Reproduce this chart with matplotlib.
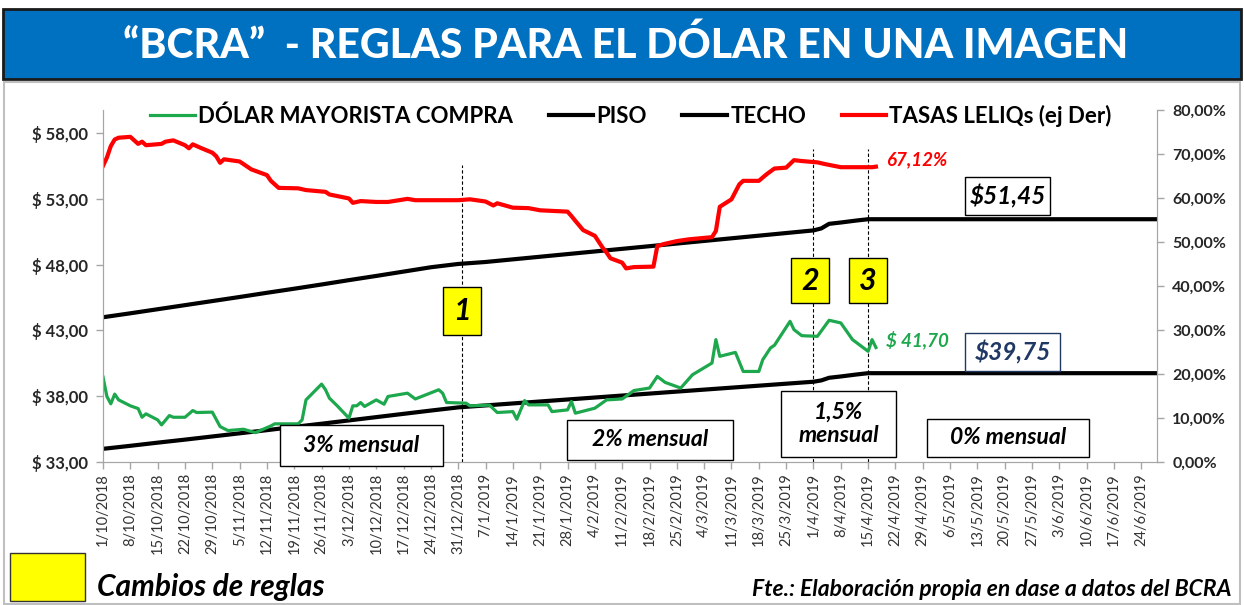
import matplotlib
matplotlib.use("Agg")
import matplotlib.pyplot as plt
import pandas as pd
from matplotlib.patches import Rectangle
from matplotlib.ticker import FuncFormatter, FixedLocator

plt.rcParams['font.family'] = ['Lato', 'DejaVu Sans']

# dólar mayorista compra ($)
dolar_fechas = ['2018-10-01', '2018-10-02', '2018-10-03', '2018-10-04', '2018-10-05', '2018-10-08',
                '2018-10-10', '2018-10-11', '2018-10-12', '2018-10-15', '2018-10-16', '2018-10-18',
                '2018-10-19', '2018-10-22', '2018-10-24', '2018-10-25', '2018-10-29', '2018-10-31',
                '2018-11-02', '2018-11-06', '2018-11-09', '2018-11-13', '2018-11-14', '2018-11-20',
                '2018-11-21', '2018-11-22', '2018-11-26', '2018-11-27', '2018-11-28', '2018-11-30',
                '2018-12-03', '2018-12-04', '2018-12-05', '2018-12-06', '2018-12-07', '2018-12-10',
                '2018-12-12', '2018-12-13', '2018-12-18', '2018-12-20', '2018-12-26', '2018-12-27',
                '2018-12-28', '2019-01-02', '2019-01-03', '2019-01-08', '2019-01-10', '2019-01-14',
                '2019-01-15', '2019-01-17', '2019-01-18', '2019-01-23', '2019-01-24', '2019-01-28',
                '2019-01-29', '2019-01-30', '2019-02-04', '2019-02-07', '2019-02-11', '2019-02-14',
                '2019-02-18', '2019-02-20', '2019-02-22', '2019-02-26', '2019-03-01', '2019-03-06',
                '2019-03-07', '2019-03-08', '2019-03-12', '2019-03-14', '2019-03-18', '2019-03-19',
                '2019-03-21', '2019-03-22', '2019-03-26', '2019-03-27', '2019-03-29', '2019-04-02',
                '2019-04-05', '2019-04-08', '2019-04-11', '2019-04-15', '2019-04-16', '2019-04-17']
dolar = [39.46, 37.98, 37.42, 38.16, 37.72, 37.27,
         37.06, 36.40, 36.66, 36.20, 35.82, 36.53,
         36.40, 36.40, 36.91, 36.76, 36.79, 35.69,
         35.39, 35.49, 35.23, 35.74, 35.90, 35.90,
         36.20, 37.72, 38.92, 38.49, 37.85, 37.27,
         36.33, 37.27, 37.27, 37.52, 37.22, 37.72,
         37.39, 37.98, 38.23, 37.79, 38.49, 38.23,
         37.52, 37.47, 37.27, 37.32, 36.76, 36.83,
         36.25, 37.67, 37.34, 37.34, 36.83, 36.96,
         37.60, 36.71, 37.09, 37.72, 37.79, 38.43,
         38.62, 39.50, 39.05, 38.62, 39.63, 40.52,
         42.30, 41.03, 41.33, 39.88, 39.88, 40.77,
         41.67, 41.87, 43.69, 43.06, 42.60, 42.55,
         43.77, 43.57, 42.30, 41.41, 42.30, 41.70]

# tasas LELIQ (%), eje derecho
leliq_fechas = ['2018-10-01', '2018-10-02', '2018-10-03', '2018-10-04', '2018-10-05', '2018-10-08',
                '2018-10-09', '2018-10-10', '2018-10-11', '2018-10-12', '2018-10-16', '2018-10-17',
                '2018-10-19', '2018-10-22', '2018-10-23', '2018-10-24', '2018-10-26', '2018-10-29',
                '2018-10-30', '2018-10-31', '2018-11-01', '2018-11-05', '2018-11-08', '2018-11-12',
                '2018-11-13', '2018-11-15', '2018-11-20', '2018-11-22', '2018-11-27', '2018-11-28',
                '2018-12-03', '2018-12-04', '2018-12-06', '2018-12-10', '2018-12-13', '2018-12-18',
                '2018-12-20', '2018-12-31', '2019-01-03', '2019-01-07', '2019-01-09', '2019-01-10',
                '2019-01-14', '2019-01-18', '2019-01-21', '2019-01-28', '2019-01-29', '2019-01-30',
                '2019-02-01', '2019-02-04', '2019-02-06', '2019-02-07', '2019-02-08', '2019-02-11',
                '2019-02-12', '2019-02-14', '2019-02-19', '2019-02-20', '2019-02-22', '2019-02-25',
                '2019-02-28', '2019-03-06', '2019-03-07', '2019-03-08', '2019-03-11', '2019-03-13',
                '2019-03-14', '2019-03-18', '2019-03-20', '2019-03-22', '2019-03-25', '2019-03-27',
                '2019-03-29', '2019-04-02', '2019-04-04', '2019-04-08', '2019-04-12', '2019-04-16',
                '2019-04-17']
leliq = [67.3, 69.2, 71.8, 73.3, 73.7, 73.9,
         73.1, 72.3, 72.8, 72.0, 72.3, 72.8,
         73.1, 72.0, 71.3, 72.2, 71.4, 70.3,
         69.5, 68.0, 68.8, 68.3, 66.5, 65.2,
         63.9, 62.3, 62.2, 61.8, 61.4, 60.8,
         59.9, 58.9, 59.3, 59.1, 59.1, 59.8,
         59.5, 59.5, 59.7, 59.2, 58.3, 58.8,
         57.8, 57.7, 57.2, 56.9, 55.9, 54.8,
         52.7, 51.4, 48.7, 47.6, 46.3, 45.3,
         44.0, 44.3, 44.4, 49.1, 49.6, 50.2,
         50.6, 51.1, 52.5, 58.0, 59.7, 63.1,
         63.9, 63.9, 65.4, 66.7, 66.9, 68.6,
         68.4, 68.1, 67.7, 67.0, 67.0, 67.0,
         67.12]

# banda cambiaria: piso y techo ($)
banda_fechas = ['2018-10-01', '2018-10-08', '2018-10-15', '2018-10-22', '2018-10-29', '2018-11-05',
                '2018-11-12', '2018-11-19', '2018-11-26', '2018-12-03', '2018-12-10', '2018-12-17',
                '2018-12-24', '2018-12-31', '2019-01-07', '2019-01-14', '2019-01-21', '2019-01-28',
                '2019-02-04', '2019-02-11', '2019-02-18', '2019-02-25', '2019-03-04', '2019-03-11',
                '2019-03-18', '2019-03-25', '2019-04-01', '2019-04-03', '2019-04-05', '2019-04-08',
                '2019-04-12', '2019-04-15', '2019-06-28']
piso = [34.00, 34.23, 34.47, 34.70, 34.94, 35.18,
        35.42, 35.67, 35.91, 36.16, 36.41, 36.66,
        36.91, 37.15, 37.30, 37.45, 37.60, 37.75,
        37.90, 38.05, 38.20, 38.35, 38.50, 38.65,
        38.80, 38.95, 39.10, 39.20, 39.40, 39.50,
        39.65, 39.75, 39.75]
techo = [44.00, 44.30, 44.61, 44.92, 45.23, 45.54,
         45.86, 46.17, 46.49, 46.82, 47.14, 47.47,
         47.80, 48.05, 48.20, 48.40, 48.60, 48.80,
         49.00, 49.20, 49.40, 49.60, 49.80, 50.00,
         50.20, 50.40, 50.60, 50.75, 51.10, 51.20,
         51.35, 51.45, 51.45]

# cambios de reglas
reglas_fechas = ['2019-01-01', '2019-04-01', '2019-04-15']
reglas_nombres = ['1', '2', '3']

W, H = 1244, 605
VERDE = '#1EA84D'
GRIS = '#A6A6A6'

fig = plt.figure(figsize=(W / 100, H / 100), dpi=100)
ax = fig.add_axes([103 / W, 1 - 462 / H, (1157 - 103) / W, (462 - 110) / H])
ax2 = ax.twinx()

d_dolar = pd.to_datetime(dolar_fechas)
d_leliq = pd.to_datetime(leliq_fechas)
d_banda = pd.to_datetime(banda_fechas)
d_reglas = pd.to_datetime(reglas_fechas)

l_piso, = ax.plot(d_banda, piso, color='black', lw=3, zorder=2, label='PISO')
l_techo, = ax.plot(d_banda, techo, color='black', lw=3, zorder=2, label='TECHO')
l_dolar, = ax.plot(d_dolar, dolar, color=VERDE, lw=2.3, zorder=3, label='DÓLAR MAYORISTA COMPRA')
l_leliq, = ax2.plot(d_leliq, leliq, color='#FF0000', lw=3, label='TASAS LELIQs (ej Der)')

ax.vlines(d_reglas, 33, [55.6, 56.8, 56.8], colors='black', linestyles=(0, (3, 2)), lw=0.8, zorder=1)

ax.set_ylim(33, 59.75)
ax2.set_ylim(0, 80)
ax.set_xlim(pd.Timestamp('2018-10-01'), pd.Timestamp('2019-06-28'))

ax.yaxis.set_major_locator(FixedLocator([33, 38, 43, 48, 53, 58]))
ax.yaxis.set_major_formatter(FuncFormatter(lambda v, p: f"$ {v:.2f}".replace('.', ',')))
ax2.yaxis.set_major_locator(FixedLocator(range(0, 81, 10)))
ax2.yaxis.set_major_formatter(FuncFormatter(lambda v, p: f"{v:.2f}%".replace('.', ',')))

semanas = pd.date_range('2018-10-01', '2019-06-24', freq='7D')
ax.set_xticks(semanas)
ax.set_xticklabels([f"{d.day}/{d.month}/{d.year}" for d in semanas], rotation=90,
                   fontsize=10.5, color='#333333')

for a in (ax, ax2):
    a.spines['top'].set_visible(False)
    for s in ('left', 'right', 'bottom'):
        a.spines[s].set_color(GRIS)
    a.tick_params(colors=GRIS, length=5, width=1)
ax.tick_params(axis='y', labelcolor='#262626', labelsize=12, pad=6)
ax.tick_params(axis='x', labelcolor='#333333', pad=3)
ax2.tick_params(axis='y', labelcolor='#262626', labelsize=11.5, pad=6)
for t in ax.get_yticklabels() + ax2.get_yticklabels():
    t.set_fontweight('bold')

# leyenda
fig.legend([l_dolar, l_piso, l_techo, l_leliq],
           [l.get_label() for l in (l_dolar, l_piso, l_techo, l_leliq)],
           loc='center', bbox_to_anchor=(631 / W, 1 - 116 / H), ncol=4, frameon=False,
           prop={'weight': 'bold', 'size': 16}, handlelength=2.0, handletextpad=0.15,
           columnspacing=1.6)


def px_box(x0, y0, x1, y1, text, fc='white', ec='black', color='black', size=15, lw=1.0):
    fig.add_artist(Rectangle((x0 / W, 1 - y1 / H), (x1 - x0) / W, (y1 - y0) / H,
                             transform=fig.transFigure, fc=fc, ec=ec, lw=lw, zorder=5))
    fig.text((x0 + x1) / 2 / W, 1 - (y0 + y1) / 2 / H, text, ha='center', va='center',
             color=color, fontsize=size, fontweight='bold', style='italic', zorder=6,
             linespacing=1.1)


# barra de título
fig.add_artist(Rectangle((3 / W, 1 - 79 / H), 1238 / W, 70 / H, transform=fig.transFigure,
                         fc='#0070C0', ec='#1A1A1A', lw=2, zorder=0))
fig.add_artist(Rectangle((4 / W, 1 - 604 / H), 1236 / W, 522 / H, transform=fig.transFigure,
                         fc='none', ec='#BFBFBF', lw=1.5, zorder=0))
fig.text(626 / W, 1 - 45 / H, '“BCRA”  - REGLAS PARA EL DÓLAR EN UNA IMAGEN', color='white',
         fontsize=29.5, fontweight='black', ha='center', va='center')

# recuadros de cambios de reglas
px_box(443, 287, 481, 335, reglas_nombres[0], fc='#FFFF00', size=22)
px_box(791, 258, 829, 303, reglas_nombres[1], fc='#FFFF00', size=22)
px_box(849, 258, 887, 303, reglas_nombres[2], fc='#FFFF00', size=22)

# ritmo de la banda
px_box(280, 425, 443, 466, '3% mensual', size=16.5)
px_box(567, 420, 733, 460, '2% mensual', size=16.5)
px_box(781, 391, 896, 457, '1,5%\nmensual', size=16.5)
px_box(927, 419, 1089, 457, '0% mensual', size=16.5)

# valores finales
px_box(965, 177, 1050, 215, '$51,45', size=17.5)
px_box(965, 333, 1060, 371, '$39,75', ec='#1F3864', color='#1F3864', size=17.5)
fig.text(886 / W, 1 - 160 / H, '67,12%', color='#FF0000', fontsize=13.5, fontweight='bold',
         style='italic', ha='left', va='center')
fig.text(886 / W, 1 - 340 / H, '$ 41,70', color=VERDE, fontsize=13.5, fontweight='bold',
         style='italic', ha='left', va='center')

# pie
fig.add_artist(Rectangle((10 / W, 1 - 601 / H), 75 / W, 48 / H, transform=fig.transFigure,
                         fc='#FFFF00', ec='#333333', lw=1, zorder=5))
fig.text(97 / W, 1 - 587 / H, 'Cambios de reglas', fontsize=21.5, fontweight='bold',
         style='italic', ha='left', va='center')
fig.text(1232 / W, 1 - 590 / H, 'Fte.: Elaboración propia en dase a datos del BCRA',
         fontsize=16.5, fontweight='bold', style='italic', ha='right', va='center')

fig.savefig('out.png', dpi=100)
